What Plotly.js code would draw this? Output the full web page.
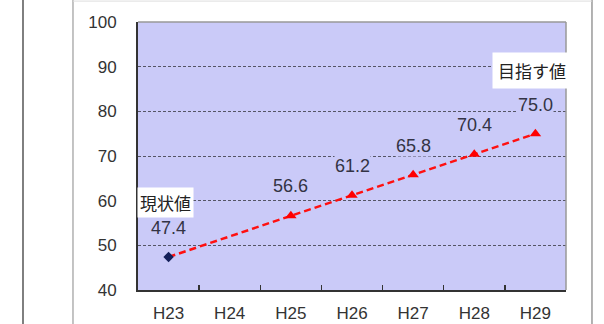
<!DOCTYPE html>
<html><head><meta charset="utf-8">
<script src="https://cdn.plot.ly/plotly-3.0.1.min.js"></script>
<style>html,body{margin:0;padding:0;background:#fff}#chart{width:604px;height:324px}</style>
</head><body><div id="chart"></div>
<script>
const categories = ["H23","H24","H25","H26","H27","H28","H29"];
const values = [47.4, null, 56.6, 61.2, 65.8, 70.4, 75.0];
const labels = ["47.4", "", "56.6", "61.2", "65.8", "70.4", "75.0"];
const currentIdx = [0];
const targetIdx = [2,3,4,5,6];
const yTicks = [40,50,60,70,80,90,100];
const noteCurrent = "現状値";
const noteTarget = "目指す値";

const PLOT_BG = "#CACAF8";
const traces = [
  {x: categories, y: values, type: "scatter", mode: "lines", connectgaps: true,
   line: {color: "#FF1010", width: 2.5, dash: "7px,4px"}, hoverinfo: "skip"},
  {x: targetIdx.map(i => categories[i]), y: targetIdx.map(i => values[i]), type: "scatter", mode: "markers",
   marker: {symbol: "triangle-up", size: 10, color: "#FF0000"}},
  {x: currentIdx.map(i => categories[i]), y: currentIdx.map(i => values[i]), type: "scatter", mode: "markers",
   marker: {symbol: "diamond", size: 8, color: "#14205A"}}
];

const annotations = [];
categories.forEach((c, i) => {
  if (values[i] === null) return;
  annotations.push({x: c, y: values[i], text: labels[i], showarrow: false, yshift: i === 0 ? 29 : (i === 2 ? 30 : 29),
    font: {family: "Liberation Sans, Arial, sans-serif", size: 18, color: "#333344"},
    bgcolor: PLOT_BG, borderpad: 0});
});
annotations.push({x: categories[0], y: values[0], text: noteCurrent, showarrow: false, yshift: 54, xshift: -3,
  font: {family: "Noto Sans CJK JP", size: 17, color: "#222"}, bgcolor: "#FFFFFF", borderpad: 2});
annotations.push({x: categories[6], y: values[6], text: noteTarget, showarrow: false, yshift: 63, xshift: -3,
  font: {family: "Noto Sans CJK JP", size: 17, color: "#222"}, bgcolor: "#FFFFFF", borderpad: 5});

const layout = {
  width: 604, height: 324,
  margin: {l: 138, r: 38, t: 22, b: 34},
  paper_bgcolor: "#FFFFFF", plot_bgcolor: PLOT_BG,
  showlegend: false,
  font: {family: "Liberation Sans, Arial, sans-serif", color: "#333"},
  xaxis: {type: "category", categoryarray: categories, range: [-0.5, 6.5],
    tickson: "boundaries", ticks: "inside", ticklen: 5, tickcolor: "#333", tickwidth: 1.5,
    showgrid: false, showline: true, linecolor: "#333", linewidth: 2, zeroline: false,
    tickfont: {size: 17, color: "#333"}, ticklabelstandoff: 7, fixedrange: true},
  yaxis: {range: [40, 100], tickvals: yTicks, ticks: "", showgrid: true,
    gridcolor: "#555566", griddash: "3px,2px", gridwidth: 1,
    showline: true, linecolor: "#333", linewidth: 2, zeroline: false,
    tickfont: {size: 17, color: "#333"}, ticklabelstandoff: 16, fixedrange: true},
  annotations: annotations,
  shapes: [
    {type: "line", xref: "paper", yref: "paper", x0: 0, x1: 1, y0: 1, y1: 1, line: {color: "#999", width: 1.5}},
    {type: "line", xref: "paper", yref: "paper", x0: 1, x1: 1, y0: 0, y1: 1, line: {color: "#999", width: 1.5}},
    {type: "line", xref: "paper", yref: "paper", x0: -0.2687, x1: -0.2687, y0: -0.2, y1: 1.2, line: {color: "#555", width: 1.5}},
    {type: "line", xref: "paper", yref: "paper", x0: -0.1519, x1: -0.1519, y0: -0.2, y1: 1.2, line: {color: "#888", width: 1}},
    {type: "line", xref: "paper", yref: "paper", x0: 1.0607, x1: 1.0607, y0: -0.2, y1: 1.2, line: {color: "#999", width: 1.5}},
    {type: "line", xref: "paper", yref: "paper", x0: -0.1519, x1: 1.0607, y0: 1.078, y1: 1.078, line: {color: "#ddd", width: 1}}
  ]
};
Plotly.newPlot("chart", traces, layout, {displayModeBar: false, staticPlot: true});
</script></body></html>
